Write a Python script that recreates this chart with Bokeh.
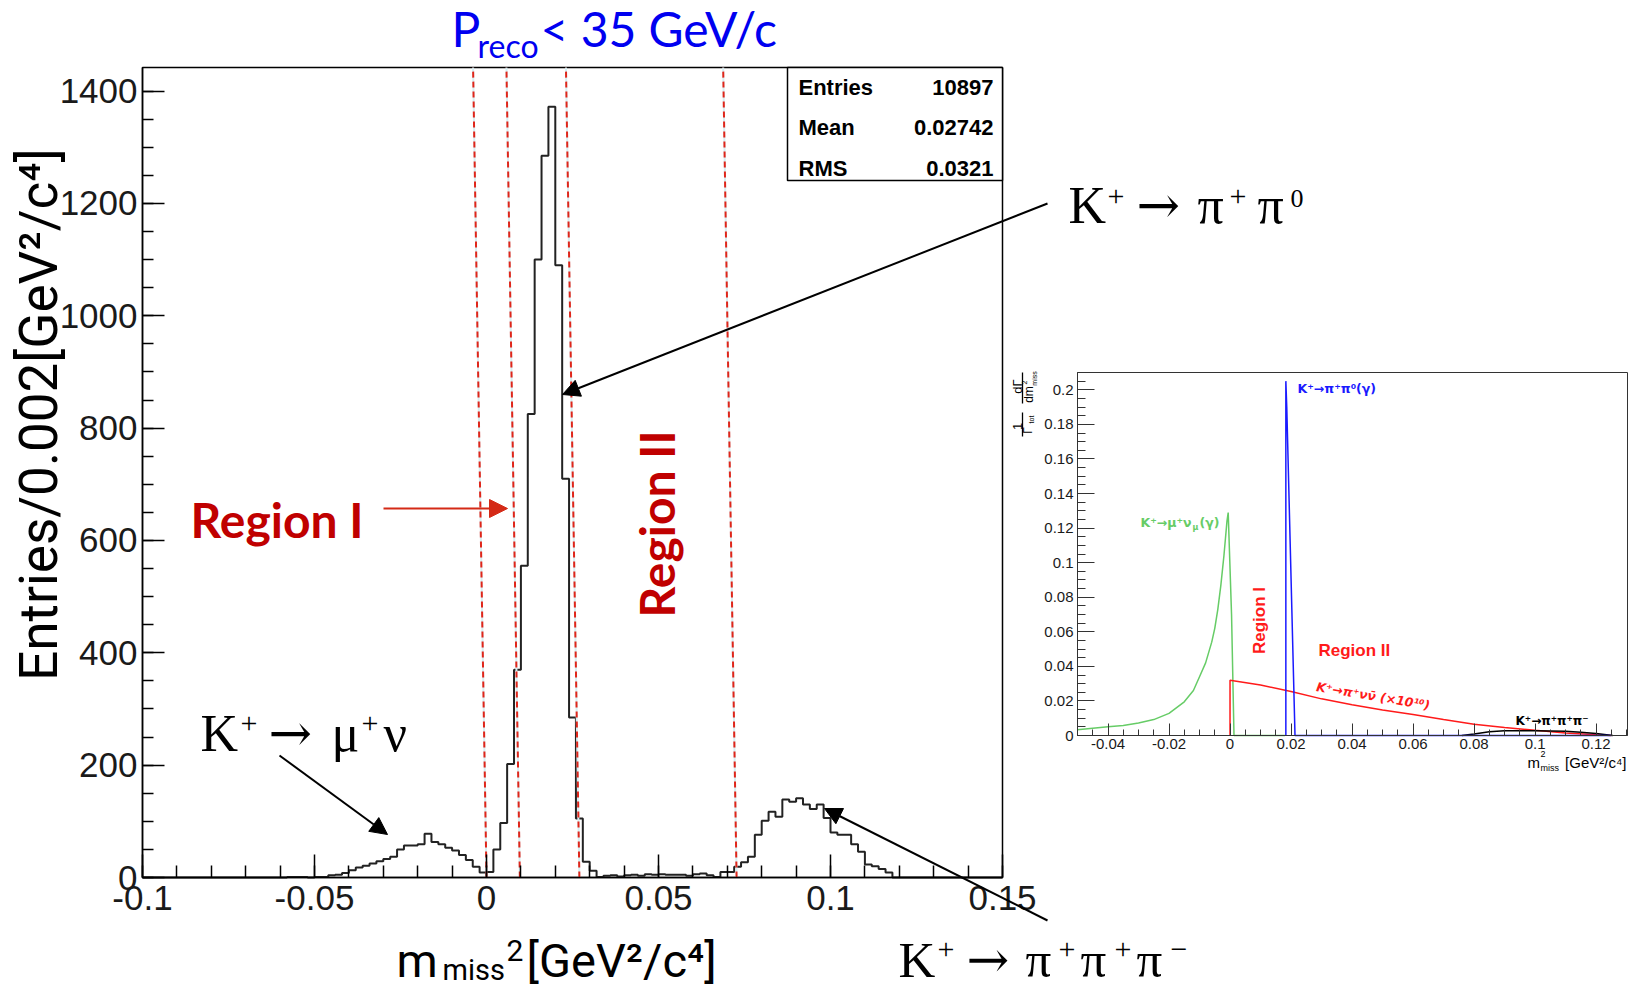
import math
from bokeh.plotting import figure
from bokeh.models import (FixedTicker, NumeralTickFormatter, Label, Arrow, NormalHead,
                          Range1d, LinearAxis)
from bokeh.embed import file_html
from bokeh.resources import INLINE

# ---------------- data ----------------
bin_width = 0.002
first_bin_low = -0.058
entries_per_bin = [
    1, 1, 1, 0, 1, 1, 4, 5, 8, 13,
    18, 21, 25, 29, 33, 37, 50, 57, 57, 59,
    78, 63, 59, 53, 48, 40, 31, 19, 9, 10,
    50, 97, 202, 370, 555, 825, 1100, 1285, 1372, 1090,
    710, 285, 105, 28, 12, 1, 3, 4, 2, 4,
    5, 3, 6, 5, 6, 5, 5, 5, 3, 6,
    7, 4, 1, 10, 10, 19, 27, 37, 76, 101,
    117, 108, 139, 135, 141, 130, 122, 130, 106, 80,
    76, 76, 59, 46, 23, 20, 15, 9,
]
cut_x_bottom = [0.0, 0.0097, 0.027, 0.0727]
cut_x_top = [-0.0039, 0.0058, 0.0231, 0.0688]
stats_names = ["Entries", "Mean", "RMS"]
stats_values = ["10897", "0.02742", "0.0321"]
x_tick_values = [-0.1, -0.05, 0.0, 0.05, 0.1, 0.15]
y_tick_values = [0, 200, 400, 600, 800, 1000, 1200, 1400]

# inset (theory spectra)
green_x = [-0.05, -0.045, -0.04, -0.035, -0.03, -0.025, -0.02, -0.015, -0.012, -0.01, -0.008,
           -0.006, -0.005, -0.004, -0.003, -0.002, -0.0015, -0.001, -0.0006, 0.0005, 0.0013, 0.018]
green_y = [0.0033, 0.0042, 0.005, 0.0058, 0.0072, 0.0092, 0.0128, 0.0195, 0.026, 0.034, 0.042,
           0.054, 0.062, 0.073, 0.087, 0.104, 0.114, 0.124, 0.129, 0.07, 0.0, 0.0]
blue_x = [0.0183, 0.0183, 0.0186, 0.0213, 0.125]
blue_y = [0.0, 0.205, 0.19, 0.0, 0.0]
red_x = [0.0, 0.0, 0.01, 0.02, 0.03, 0.04, 0.05, 0.06, 0.07, 0.08, 0.09, 0.10, 0.11, 0.12, 0.125]
red_y = [0.0, 0.032, 0.0292, 0.0255, 0.0212, 0.0178, 0.0148, 0.0122, 0.0093, 0.0065, 0.0046,
         0.0030, 0.0015, 0.0004, 0.0]
black_x = [0.076, 0.08, 0.085, 0.09, 0.1, 0.11, 0.115, 0.12, 0.1255]
black_y = [0.0, 0.0009, 0.0022, 0.0027, 0.0027, 0.0024, 0.0019, 0.0011, 0.0]
inset_x_ticks = [-0.04, -0.02, 0.0, 0.02, 0.04, 0.06, 0.08, 0.1, 0.12]
inset_y_ticks = [0.0, 0.02, 0.04, 0.06, 0.08, 0.1, 0.12, 0.14, 0.16, 0.18, 0.2]

# ---------------- page geometry (pixels) ----------------
W, H = 1633, 990
XMIN, XMAX, YMAX = -0.1, 0.15, 1442.0
FL, FR, FT, FB = 142, 1002, 67, 877          # main frame
IXMIN, IXMAX, IYMAX = -0.05, 0.1303, 0.21
IFL, IFR, IFT, IFB = 1077, 1627, 372, 735    # inset frame


def span_range(v0, p0, v1, p1, first_px, last_px):
    s = (v1 - v0) / (p1 - p0)
    return Range1d(start=v0 + (first_px - p0) * s, end=v0 + (last_px - p0) * s)


f = figure(width=W, height=H, x_range=Range1d(0, W), y_range=Range1d(H, 0),
           output_backend="svg", toolbar_location=None,
           x_axis_location=None, y_axis_location=None,
           min_border_left=0, min_border_right=0, min_border_top=0, min_border_bottom=0)
f.grid.visible = False
f.outline_line_color = None
f.background_fill_color = "white"
f.border_fill_color = "white"
f.extra_x_ranges = {"mx": span_range(XMIN, FL, XMAX, FR, 0, W),
                    "ix": span_range(IXMIN, IFL, IXMAX, IFR, 0, W)}
f.extra_y_ranges = {"my": span_range(0.0, FB, YMAX, FT, H, 0),
                    "iy": span_range(0.0, IFB, IYMAX, IFT, H, 0)}
M = dict(x_range_name="mx", y_range_name="my")
I = dict(x_range_name="ix", y_range_name="iy")

TICK_FONT = "Liberation Sans"


def add_axis(side, names, loc, bounds, ticks, minor, tick_in, minor_in, size, standoff,
             color, width):
    ax = LinearAxis(fixed_location=loc, bounds=bounds,
                    ticker=FixedTicker(ticks=ticks, minor_ticks=minor),
                    formatter=NumeralTickFormatter(format="0.[00]"), **names)
    ax.axis_line_color = color
    ax.axis_line_width = width
    ax.major_tick_line_color = color
    ax.minor_tick_line_color = color
    ax.major_tick_line_width = width
    ax.minor_tick_line_width = width
    ax.major_tick_in = tick_in
    ax.minor_tick_in = minor_in
    ax.major_tick_out = 0
    ax.minor_tick_out = 0
    ax.major_label_text_font = TICK_FONT
    ax.major_label_text_font_size = f"{size}px"
    ax.major_label_text_color = "#1a1a1a"
    ax.major_label_standoff = standoff
    f.add_layout(ax, side)


# ---------------- main histogram ----------------
f.quad(left=[XMIN], right=[XMAX], bottom=[0], top=[YMAX], fill_color=None,
       line_color="black", line_width=1.5, **M)

edges = [first_bin_low + i * bin_width for i in range(len(entries_per_bin) + 1)]
hx, hy = [XMIN, edges[0]], [0, 0]
for i, c in enumerate(entries_per_bin):
    hx += [edges[i], edges[i + 1]]
    hy += [c, c]
hx += [edges[-1], XMAX]
hy += [0, 0]
f.line(hx, hy, line_color="#222222", line_width=2, **M)

f.segment(x0=cut_x_bottom, y0=[0] * 4, x1=cut_x_top, y1=[YMAX] * 4,
          line_color="#d6eef2", line_width=2, **M)
f.segment(x0=cut_x_bottom, y0=[0] * 4, x1=cut_x_top, y1=[YMAX] * 4,
          line_color="#e0261a", line_width=2, line_dash="6 4", **M)

# stats box
stats_left = XMIN + (787 - FL) / (FR - FL) * (XMAX - XMIN)
stats_bottom = (FB - 180) / (FB - FT) * YMAX
f.quad(left=[stats_left], right=[XMAX], bottom=[stats_bottom], top=[YMAX],
       fill_color="white", line_color="black", line_width=1.5, **M)

add_axis("below", M, 0.0, (XMIN, XMAX), x_tick_values,
         [XMIN + 0.01 * i for i in range(26)], 23, 12, 35, 8, "black", 1.5)
add_axis("left", M, XMIN, (0, YMAX), y_tick_values,
         [50 * i for i in range(29)], 22, 11, 35, 5, "black", 1.5)

# ---------------- inset ----------------
GREEN = "#66cc66"
IBLUE = "#1a1aff"
IRED = "#ff1a1a"
f.quad(left=[IXMIN], right=[IXMAX], bottom=[0], top=[IYMAX], fill_color="white",
       line_color="#333333", line_width=1, **I)
f.line(green_x, green_y, line_color=GREEN, line_width=1.5, **I)
f.line(red_x, red_y, line_color=IRED, line_width=1.5, **I)
f.line(black_x, black_y, line_color="black", line_width=1.5, **I)
f.line(blue_x, blue_y, line_color=IBLUE, line_width=1.5, **I)
add_axis("below", I, 0.0, (IXMIN, IXMAX), inset_x_ticks,
         [-0.05 + 0.005 * i for i in range(37)], 12, 6, 15, 3, "#333333", 1)
add_axis("left", I, IXMIN, (0, IYMAX), inset_y_ticks,
         [0.005 * i for i in range(43)], 17, 8, 15, 4, "#333333", 1)


# ---------------- texts and arrows (page pixels) ----------------
def lab(px, py, text, size, font, color="black", style="normal",
        align="left", baseline="alphabetic", angle=0.0):
    if baseline == "alphabetic":
        # place by the middle of the capitals (baseline given)
        k = 0.35 * size
        px, py = px - k * math.sin(angle), py - k * math.cos(angle)
        baseline = "middle"
    f.add_layout(Label(x=px, y=py, text=text, text_font=font,
                       text_font_size=f"{size}px", text_color=color, text_font_style=style,
                       text_align=align, text_baseline=baseline, angle=angle))


def arrow(x0, y0, x1, y1, color="black", width=2, head=17):
    f.add_layout(Arrow(end=NormalHead(size=head, fill_color=color, line_color=color),
                       x_start=x0, y_start=y0, x_end=x1, y_end=y1,
                       line_color=color, line_width=width))


for name, val, ypx in zip(stats_names, stats_values, [87, 127, 168]):
    lab(798, ypx, name, 22, "Liberation Sans", style="bold", baseline="middle")
    lab(993, ypx, val, 22, "Liberation Sans", style="bold", baseline="middle", align="right")

BLUE = "#0000f0"
lab(451, 45, "P", 48, "Lato", color=BLUE)
lab(477, 56, "reco", 32, "Lato", color=BLUE)
lab(540, 45, "< 35 GeV/c", 48, "Lato", color=BLUE)

AXF = "Roboto"
lab(38, 414, "Entries/0.002[GeV\u00b2/c\u2074]", 53, AXF, align="center",
    baseline="middle", angle=math.pi / 2)
lab(396, 976, "m", 47, AXF)
lab(442, 980, "miss", 29, AXF)
lab(506, 960, "2", 30, AXF)
lab(526, 976, "[GeV\u00b2/c\u2074]", 47, AXF)

DRED = "#c00000"
lab(190, 536, "Region I", 48, "Lato", color=DRED, style="bold")
lab(673, 617, "Region II", 48, "Lato", color=DRED, style="bold", angle=math.pi / 2)
arrow(383, 508, 507, 508, color="#d42a16", head=18)

SER = "Liberation Serif"
ARR = "DejaVu Serif"


def formula(pieces):
    for text, px, py, size in pieces:
        lab(px, py, text, size, ARR if text == "\u2192" else SER)


formula([("K", 1068, 223, 52), ("+", 1107, 206, 30), ("\u2192", 1136, 223, 52),
         ("\u03c0", 1197, 223, 52), ("+", 1229, 206, 30), ("\u03c0", 1257, 223, 52),
         ("0", 1290, 207, 26)])
formula([("K", 200, 751, 52), ("+", 240, 733, 30), ("\u2192", 268, 751, 52),
         ("\u03bc", 331, 751, 52), ("+", 361, 733, 30), ("\u03bd", 383, 751, 52)])
formula([("K", 898, 977, 51), ("+", 937, 959, 30), ("\u2192", 966, 977, 51),
         ("\u03c0", 1025, 977, 51), ("+", 1058, 959, 30), ("\u03c0", 1080, 977, 51),
         ("+", 1114, 959, 30), ("\u03c0", 1136, 977, 51), ("\u2212", 1170, 959, 30)])

for (x0, y0, x1, y1) in [(1047, 203, 562, 394), (279, 755, 387, 834), (1047, 920, 824, 808)]:
    arrow(x0, y0, x1, y1)

IF = "Liberation Sans"
DV = "DejaVu Sans"
lab(1297, 388, "K\u207a\u2192\u03c0\u207a\u03c0\u2070(\u03b3)", 12.5, DV, color=IBLUE, style="bold",
    baseline="middle")
lab(1140, 522, "K\u207a\u2192\u03bc\u207a\u03bd", 12.5, DV, color=GREEN, style="bold", baseline="middle")
lab(1192, 527, "\u03bc", 8, DV, color=GREEN, style="bold", baseline="middle")
lab(1199, 522, "(\u03b3)", 12.5, DV, color=GREEN, style="bold", baseline="middle")
lab(1259, 620, "Region I", 17, IF, color=IRED, style="bold", align="center", baseline="middle",
    angle=math.pi / 2)
lab(1318, 650, "Region II", 17, IF, color=IRED, style="bold", baseline="middle")
lab(1316, 686, "K\u207a\u2192\u03c0\u207a\u03bd\u03bd\u0304 (\u00d710\u00b9\u2070)", 12.5, DV, color=IRED,
    style="bold italic", baseline="middle", angle=-0.165)
lab(1515, 720, "K\u207a\u2192\u03c0\u207a\u03c0\u207a\u03c0\u207b", 12, DV, color="black", style="bold",
    baseline="middle")
lab(1527, 767, "m", 15, IF)
lab(1540, 757, "2", 9, IF)
lab(1540, 771, "miss", 9, IF)
lab(1626, 767, "[GeV\u00b2/c\u2074]", 15, IF, align="right")
lab(1017, 426, "1", 13, IF, align="center", baseline="middle", angle=math.pi / 2)
lab(1027, 430, "\u0393", 12, IF, align="center", baseline="middle", angle=math.pi / 2)
lab(1031, 419, "tot", 7, IF, align="center", baseline="middle", angle=math.pi / 2)
lab(1017, 386, "d\u0393", 13, IF, align="center", baseline="middle", angle=math.pi / 2)
lab(1028, 394, "dm", 12, IF, align="center", baseline="middle", angle=math.pi / 2)
lab(1024, 382, "2", 7, IF, align="center", baseline="middle", angle=math.pi / 2)
lab(1034, 378, "miss", 7, IF, align="center", baseline="middle", angle=math.pi / 2)
for (ya0, ya1) in [(436, 412), (403, 372)]:
    f.add_layout(Arrow(start=None, end=None, x_start=1022, y_start=ya0,
                       x_end=1022, y_end=ya1, line_color="black", line_width=1.3))

open("out.html", "w").write(file_html(f, INLINE))
